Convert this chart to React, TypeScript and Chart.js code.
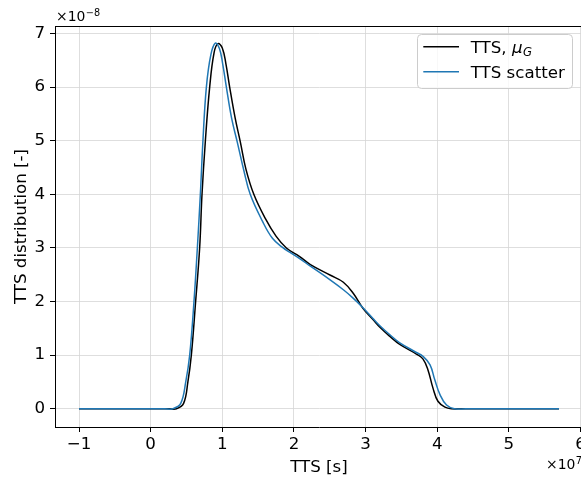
import React, { useEffect, useRef } from "react";
import { Chart, registerables } from "chart.js";

Chart.register(...registerables);

// Tick values (x in units of 1e7 s, y in units of 1e-8)
const xTicks = [-1, 0, 1, 2, 3, 4, 5, 6];
const yTicks = [0, 1, 2, 3, 4, 5, 6, 7];

// Series "TTS, mu_G" (black)
const muX = [-1.0, 0.0, 0.25, 0.36, 0.46, 0.52, 0.568, 0.628, 0.684, 0.717, 0.764, 0.824, 0.885, 0.94, 1.0, 1.05, 1.103, 1.18, 1.253, 1.33, 1.44, 1.6, 1.75, 1.895, 2.08, 2.23, 2.51, 2.69, 2.83, 2.96, 3.1, 3.2, 3.34, 3.478, 3.71, 3.8, 3.87, 3.94, 4.01, 4.11, 4.2, 4.35, 5.0, 5.7];
const muY = [0, 0, 0, 0, 0.1, 0.5, 1.0, 2.0, 3.0, 4.0, 5.0, 6.0, 6.64, 6.81, 6.73, 6.44, 6.0, 5.42, 4.97, 4.47, 4.0, 3.55, 3.22, 3.0, 2.84, 2.69, 2.49, 2.36, 2.15, 1.88, 1.67, 1.52, 1.35, 1.2, 1.02, 0.93, 0.73, 0.39, 0.14, 0.03, 0, 0, 0, 0];

// Series "TTS scatter" (blue)
const scX = [-1.0, 0.0, 0.2, 0.31, 0.42, 0.49, 0.545, 0.605, 0.652, 0.694, 0.73, 0.778, 0.84, 0.903, 0.96, 1.005, 1.057, 1.13, 1.21, 1.3, 1.39, 1.56, 1.7, 1.85, 1.94, 2.08, 2.23, 2.51, 2.69, 2.83, 2.96, 3.1, 3.2, 3.34, 3.478, 3.71, 3.8, 3.9, 3.966, 4.04, 4.13, 4.24, 4.4, 5.0, 5.7];
const scY = [0, 0, 0, 0, 0.1, 0.5, 1.0, 2.0, 3.0, 4.0, 5.0, 6.0, 6.6, 6.82, 6.72, 6.44, 6.0, 5.42, 4.97, 4.45, 4.0, 3.5, 3.18, 3.0, 2.92, 2.8, 2.66, 2.4, 2.22, 2.06, 1.89, 1.69, 1.55, 1.38, 1.23, 1.05, 0.98, 0.82, 0.54, 0.26, 0.07, 0, 0, 0, 0];

const seriesNames = ["TTS, ", "TTS scatter"];
const xTitle = "TTS [s]";
const yTitle = "TTS distribution [-]";

const FONT = "'DejaVu Sans'";
const FS = 16.67;

const fmt = (v: number) => (v < 0 ? "\u2212" + Math.abs(v) : String(v));

const extras = {
  id: "extras",
  afterDraw(chart: any) {
    const ctx = chart.ctx as CanvasRenderingContext2D;
    const a = chart.chartArea;
    ctx.save();
    // top and right spines
    ctx.strokeStyle = "#000";
    ctx.lineWidth = 1;
    ctx.beginPath();
    ctx.moveTo(a.left, Math.round(a.top) + 0.5);
    ctx.lineTo(a.right, Math.round(a.top) + 0.5);
    ctx.moveTo(Math.round(a.right) + 0.5, a.top);
    ctx.lineTo(Math.round(a.right) + 0.5, a.bottom);
    ctx.stroke();

    // offset texts
    ctx.fillStyle = "#000";
    ctx.textAlign = "left";
    ctx.textBaseline = "alphabetic";
    ctx.font = `13.9px ${FONT}`;
    ctx.fillText("\u00d710", 56, 20.5);
    let w = ctx.measureText("\u00d710").width;
    ctx.font = `9.7px ${FONT}`;
    ctx.fillText("\u22128", 56 + w + 0.5, 15.5);

    ctx.font = `13.9px ${FONT}`;
    ctx.fillText("\u00d710", 546, 469);
    w = ctx.measureText("\u00d710").width;
    ctx.font = `9.7px ${FONT}`;
    ctx.fillText("7", 546 + w + 0.5, 464);

    // legend
    const lx = 417.5, ly = 34.5, lw = 155, lh = 54, r = 4;
    ctx.beginPath();
    ctx.moveTo(lx + r, ly);
    ctx.lineTo(lx + lw - r, ly);
    ctx.arcTo(lx + lw, ly, lx + lw, ly + r, r);
    ctx.lineTo(lx + lw, ly + lh - r);
    ctx.arcTo(lx + lw, ly + lh, lx + lw - r, ly + lh, r);
    ctx.lineTo(lx + r, ly + lh);
    ctx.arcTo(lx, ly + lh, lx, ly + lh - r, r);
    ctx.lineTo(lx, ly + r);
    ctx.arcTo(lx, ly, lx + r, ly, r);
    ctx.closePath();
    ctx.fillStyle = "rgba(255,255,255,0.8)";
    ctx.fill();
    ctx.strokeStyle = "#cccccc";
    ctx.lineWidth = 1;
    ctx.stroke();

    const rows = [
      { y: 46.7, color: "#000000" },
      { y: 71.7, color: "#1f77b4" },
    ];
    ctx.lineWidth = 1.5;
    rows.forEach((row) => {
      ctx.strokeStyle = row.color;
      ctx.beginPath();
      ctx.moveTo(423.3, row.y);
      ctx.lineTo(459, row.y);
      ctx.stroke();
    });
    ctx.fillStyle = "#000";
    ctx.font = `${FS}px ${FONT}`;
    const tx = 470.7;
    ctx.fillText(seriesNames[0], tx, rows[0].y + 6.3);
    let tw = ctx.measureText(seriesNames[0]).width;
    ctx.font = `italic ${FS}px ${FONT}`;
    ctx.fillText("\u03bc", tx + tw, rows[0].y + 6.3);
    tw += ctx.measureText("\u03bc").width;
    ctx.font = `italic ${FS * 0.7}px ${FONT}`;
    ctx.fillText("G", tx + tw + 0.5, rows[0].y + 9.5);
    ctx.font = `${FS}px ${FONT}`;
    ctx.fillText(seriesNames[1], tx, rows[1].y + 6.3);
    ctx.restore();
  },
};

export default function App() {
  const ref = useRef<HTMLCanvasElement | null>(null);
  useEffect(() => {
    if (!ref.current) return;
    const chart = new Chart(ref.current, {
      type: "line",
      data: {
        datasets: [
          {
            label: "TTS scatter",
            data: scX.map((x, i) => ({ x, y: scY[i] })),
            borderColor: "#1f77b4",
            borderWidth: 1.5,
            pointRadius: 0,
            tension: 0.4,
            fill: false,
            order: 0,
          },
          {
            label: "TTS, mu_G",
            data: muX.map((x, i) => ({ x, y: muY[i] })),
            borderColor: "#000000",
            borderWidth: 1.5,
            pointRadius: 0,
            tension: 0.4,
            fill: false,
            order: 1,
          },
        ],
      },
      options: {
        responsive: false,
        animation: false,
        events: [],
        layout: { padding: { top: 26, right: 17, left: 0, bottom: 0 } },
        plugins: { legend: { display: false }, tooltip: { enabled: false } },
        scales: {
          x: {
            type: "linear",
            min: -1.335,
            max: 6.035,
            afterBuildTicks: (s: any) => {
              s.ticks = xTicks.map((v) => ({ value: v }));
            },
            afterFit: (s: any) => {
              s.height = 51;
            },
            ticks: {
              callback: (v: any) => fmt(Number(v)),
              color: "#000",
              font: { family: FONT, size: FS },
              padding: 3,
              maxRotation: 0,
              autoSkip: false,
            },
            grid: {
              color: "#d6d6d6",
              lineWidth: 0.8,
              tickColor: "#000",
              tickLength: 5,
              tickWidth: 1,
            },
            border: { color: "#000", width: 1 },
            title: {
              display: true,
              text: xTitle,
              color: "#000",
              font: { family: FONT, size: FS },
              padding: { top: 1.5, bottom: 0 },
            },
          },
          y: {
            type: "linear",
            min: -0.34,
            max: 7.14,
            afterBuildTicks: (s: any) => {
              s.ticks = yTicks.map((v) => ({ value: v }));
            },
            afterFit: (s: any) => {
              s.width = 55;
            },
            ticks: {
              callback: (v: any) => fmt(Number(v)),
              color: "#000",
              font: { family: FONT, size: FS },
              padding: 5,
              autoSkip: false,
            },
            grid: {
              color: "#d6d6d6",
              lineWidth: 0.8,
              tickColor: "#000",
              tickLength: 5,
              tickWidth: 1,
            },
            border: { color: "#000", width: 1 },
            title: {
              display: true,
              text: yTitle,
              color: "#000",
              font: { family: FONT, size: FS },
              padding: { top: 12, bottom: 0 },
            },
          },
        },
      },
      plugins: [extras],
    } as any);
    return () => chart.destroy();
  }, []);
  return (
    <div style={{ position: "fixed", left: 0, top: 0, width: 581, height: 478, overflow: "hidden", background: "#fff" }}>
      <canvas ref={ref} width={600} height={478} style={{ display: "block" }} />
    </div>
  );
}
